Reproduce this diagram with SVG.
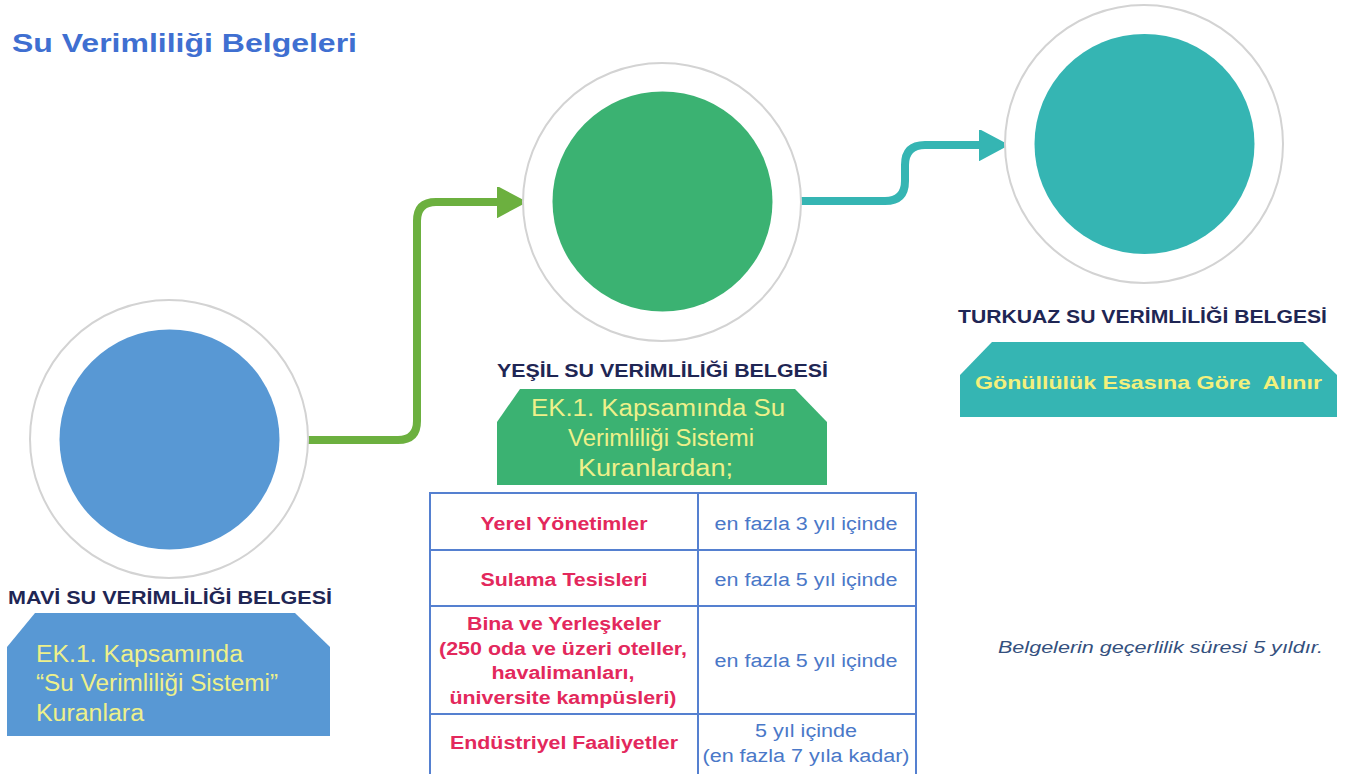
<svg xmlns="http://www.w3.org/2000/svg" width="1348" height="774" viewBox="0 0 1348 774">
  <style>
    text { font-family: "Liberation Sans", Arial, sans-serif; }
    .title { font-size: 26px; font-weight: bold; fill: #3f6fd1; }
    .label { font-size: 18px; font-weight: bold; fill: #1f2654; }
    .ring { fill: #ffffff; stroke: #d3d3d3; stroke-width: 2; }
    .boxtext { font-size: 23px; fill: #eef08a; }
    .boxbold { font-size: 19px; font-weight: bold; fill: #f3f07c; }
    .cellL { font-size: 18px; font-weight: bold; fill: #e3285c; text-anchor: middle; }
    .cellR { font-size: 18px; fill: #4a78c8; text-anchor: middle; }
    .grid { fill: none; stroke: #5580d0; stroke-width: 2; }
    .note { font-size: 16px; font-style: italic; fill: #34507e; }
    .conn { fill: none; stroke-width: 8; stroke-linecap: round; stroke-linejoin: round; }
  </style>
  <defs>
    <marker id="head-green" markerUnits="userSpaceOnUse" markerWidth="30" markerHeight="32" refX="3" refY="15" orient="auto">
      <path d="M0,0 L28,15 L0,30 Z" fill="#6cb03f" stroke="#6cb03f" stroke-width="2" stroke-linejoin="round"/>
    </marker>
    <marker id="head-teal" markerUnits="userSpaceOnUse" markerWidth="30" markerHeight="32" refX="3" refY="15" orient="auto">
      <path d="M0,0 L28,15 L0,30 Z" fill="#35b5b3" stroke="#35b5b3" stroke-width="2" stroke-linejoin="round"/>
    </marker>
  </defs>

  <rect width="1348" height="774" fill="#ffffff"/>

  <text id="title" class="title" x="12" y="52" textLength="345" lengthAdjust="spacingAndGlyphs">Su Verimliliği Belgeleri</text>

  <!-- connectors between certificate circles -->
  <g id="connectors">
    <path class="conn" stroke="#6cb03f" d="M305,440 H398 Q417,440 417,421 V221 Q417,202 436,202 H500" marker-end="url(#head-green)"/>
    <path class="conn" stroke="#35b5b3" d="M797,201 H885 Q905,201 905,181 V165 Q905,145 925,145 H982" marker-end="url(#head-teal)"/>
  </g>

  <!-- blue certificate -->
  <g id="node-mavi">
    <circle class="ring" cx="169" cy="439" r="139"/>
    <circle cx="169.5" cy="439.5" r="110" fill="#5898d4"/>
    <text class="label" x="8" y="604" textLength="324" lengthAdjust="spacingAndGlyphs">MAVİ SU VERİMLİLİĞİ BELGESİ</text>
    <path d="M35,613 H295 L330,647 V736 H7 V647 Z" fill="#5898d4"/>
    <text class="boxtext" x="36" y="662" textLength="207" lengthAdjust="spacingAndGlyphs">EK.1. Kapsamında</text>
    <text class="boxtext" x="36" y="691" textLength="242" lengthAdjust="spacingAndGlyphs">“Su Verimliliği Sistemi”</text>
    <text class="boxtext" x="36" y="721" textLength="108" lengthAdjust="spacingAndGlyphs">Kuranlara</text>
  </g>

  <!-- green certificate -->
  <g id="node-yesil">
    <circle class="ring" cx="662" cy="202" r="139"/>
    <circle cx="662.5" cy="201.5" r="110" fill="#3bb272"/>
    <text class="label" x="497" y="377" textLength="331" lengthAdjust="spacingAndGlyphs">YEŞİL SU VERİMLİLİĞİ BELGESİ</text>
    <path d="M520,389 H795 L827,422 V485 H497 V422 Z" fill="#3bb272"/>
    <text class="boxtext" x="531" y="416" textLength="254" lengthAdjust="spacingAndGlyphs">EK.1. Kapsamında Su</text>
    <text class="boxtext" x="568" y="446" textLength="186" lengthAdjust="spacingAndGlyphs">Verimliliği Sistemi</text>
    <text class="boxtext" x="578" y="476" textLength="155" lengthAdjust="spacingAndGlyphs">Kuranlardan;</text>
  </g>

  <!-- deadlines table -->
  <g id="table">
    <path class="grid" d="M430,780 V493 H916 V780 M698,493 V780 M430,550 H916 M430,606 H916 M430,714 H916"/>
    <text class="cellL" x="564" y="530" textLength="167" lengthAdjust="spacingAndGlyphs">Yerel Yönetimler</text>
    <text class="cellR" x="806" y="530" textLength="183" lengthAdjust="spacingAndGlyphs">en fazla 3 yıl içinde</text>
    <text class="cellL" x="564" y="586" textLength="167" lengthAdjust="spacingAndGlyphs">Sulama Tesisleri</text>
    <text class="cellR" x="806" y="586" textLength="183" lengthAdjust="spacingAndGlyphs">en fazla 5 yıl içinde</text>
    <text class="cellL" x="564" y="630" textLength="194" lengthAdjust="spacingAndGlyphs">Bina ve Yerleşkeler</text>
    <text class="cellL" x="563" y="655" textLength="248" lengthAdjust="spacingAndGlyphs">(250 oda ve üzeri oteller,</text>
    <text class="cellL" x="563" y="679" textLength="143" lengthAdjust="spacingAndGlyphs">havalimanları,</text>
    <text class="cellL" x="563" y="704" textLength="227" lengthAdjust="spacingAndGlyphs">üniversite kampüsleri)</text>
    <text class="cellR" x="806" y="667" textLength="183" lengthAdjust="spacingAndGlyphs">en fazla 5 yıl içinde</text>
    <text class="cellL" x="564" y="749" textLength="228" lengthAdjust="spacingAndGlyphs">Endüstriyel Faaliyetler</text>
    <text class="cellR" x="806" y="737" textLength="102" lengthAdjust="spacingAndGlyphs">5 yıl içinde</text>
    <text class="cellR" x="806" y="762" textLength="207" lengthAdjust="spacingAndGlyphs">(en fazla 7 yıla kadar)</text>
  </g>

  <!-- turquoise certificate -->
  <g id="node-turkuaz">
    <circle class="ring" cx="1144" cy="144" r="139"/>
    <circle cx="1144.5" cy="144" r="110" fill="#35b5b3"/>
    <text class="label" x="958" y="323" textLength="369" lengthAdjust="spacingAndGlyphs">TURKUAZ SU VERİMLİLİĞİ BELGESİ</text>
    <path d="M992,342 H1303 L1337,375 V417 H960 V375 Z" fill="#35b5b3"/>
    <text class="boxbold" x="975" y="389" textLength="347" lengthAdjust="spacingAndGlyphs" style="white-space:pre">Gönüllülük Esasına Göre  Alınır</text>
  </g>

  <text id="note" class="note" x="998" y="653" textLength="325" lengthAdjust="spacingAndGlyphs">Belgelerin geçerlilik süresi 5 yıldır.</text>
</svg>
